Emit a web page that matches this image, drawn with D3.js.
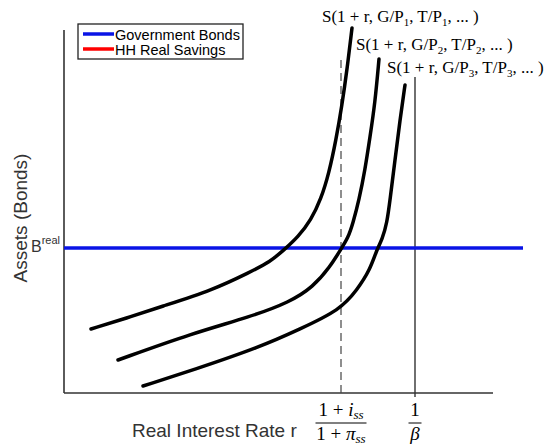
<!DOCTYPE html>
<html>
<head>
<meta charset="utf-8">
<script src="https://cdn.jsdelivr.net/npm/d3@7"></script>
<style>
  body { margin: 0; background: #fff; }
  svg { display: block; }
</style>
</head>
<body>
<div id="chart"></div>
<script>
// savings curves, [real rate, assets] in chart units
const savings1 = [[2.7, 6.4], [6.3, 7.5], [9.6, 8.6], [14.9, 10.3], [18.6, 12.1], [20.6, 13.1], [22.1, 14.4],
  [23.4, 15.6], [24.7, 17.3], [25.7, 19.4], [26.5, 22.0], [27.2, 25.3], [27.8, 28.8], [28.3, 32.3], [28.8, 36.5]];
const savings2 = [[5.4, 3.3], [12.9, 6.0], [18.6, 7.6], [22.6, 9.1], [24.9, 10.6], [26.6, 12.6], [27.7, 14.4],
  [28.4, 15.5], [28.9, 17.0], [29.5, 19.3], [30.1, 22.3], [30.6, 25.6], [31.1, 29.0], [31.5, 33.4]];
const savings3 = [[7.9, 0.7], [12.9, 2.3], [19.6, 4.6], [23.6, 6.4], [27.6, 8.3], [29.3, 10.3], [30.6, 12.3],
  [31.3, 14.4], [31.8, 15.3], [32.3, 17.0], [32.6, 19.3], [33.1, 23.3], [33.6, 27.3], [34.1, 30.8]];
const curveLabels = ["1", "2", "3"];
const bondLevel = 14.5;
const bondEnd = 45.9;
const ssRate = 27.7, ssTop = 33.3;
const betaRate = 35.1, betaTop = 31.6;

const width = 546, height = 445;
const svg = d3.select("#chart").append("svg")
  .attr("width", width).attr("height", height);

const x = d3.scaleLinear().domain([0, 42.9]).range([64, 493]);
const y = d3.scaleLinear().domain([0, 36.3]).range([393, 30]);

// axes (plain lines, no ticks)
svg.append("line").attr("x1", x(0)).attr("x2", x(0)).attr("y1", y(0)).attr("y2", y(36.3))
  .attr("stroke", "#333").attr("stroke-width", 1.6);
svg.append("line").attr("x1", x(0)).attr("x2", x(42.9)).attr("y1", y(0)).attr("y2", y(0))
  .attr("stroke", "#333").attr("stroke-width", 1.6);

// steady state dashed line and 1/beta line
svg.append("line").attr("x1", x(ssRate)).attr("x2", x(ssRate)).attr("y1", y(ssTop)).attr("y2", y(0) + 4)
  .attr("stroke", "#444").attr("stroke-width", 1.2).attr("stroke-dasharray", "8,5");
svg.append("line").attr("x1", x(betaRate)).attr("x2", x(betaRate)).attr("y1", y(betaTop)).attr("y2", y(0) + 4)
  .attr("stroke", "#333").attr("stroke-width", 1.4);

// government bonds
svg.append("line").attr("x1", x(0)).attr("x2", x(bondEnd)).attr("y1", y(bondLevel)).attr("y2", y(bondLevel))
  .attr("stroke", "#0a14e6").attr("stroke-width", 3.5);

const line = d3.line().x(d => x(d[0])).y(d => y(d[1])).curve(d3.curveBasis);
[savings1, savings2, savings3].forEach(s => {
  svg.append("path").attr("d", line(s)).attr("fill", "none")
    .attr("stroke", "#000").attr("stroke-width", 3.5).attr("stroke-linecap", "round");
});

// curve labels
const labelPos = [[322, 22], [356, 50], [387, 73]];
curveLabels.forEach((k, i) => {
  const t = svg.append("text").attr("x", labelPos[i][0]).attr("y", labelPos[i][1])
    .attr("font-family", "Liberation Serif, serif").attr("font-size", 17).attr("fill", "#000");
  t.append("tspan").text("S(1 + r, G/P");
  t.append("tspan").attr("font-size", 11).attr("dy", 4).text(k);
  t.append("tspan").attr("dy", -4).text(", T/P");
  t.append("tspan").attr("font-size", 11).attr("dy", 4).text(k);
  t.append("tspan").attr("dy", -4).text(", ... )");
});

// legend
const lg = svg.append("g");
lg.append("rect").attr("x", 78).attr("y", 24).attr("width", 165).attr("height", 35)
  .attr("fill", "#fff").attr("stroke", "#222").attr("stroke-width", 1.3);
[["Government Bonds", "#0a14e6", 34], ["HH Real Savings", "#ff0000", 49]].forEach(d => {
  lg.append("line").attr("x1", 83).attr("x2", 114).attr("y1", d[2]).attr("y2", d[2])
    .attr("stroke", d[1]).attr("stroke-width", 3.5);
  lg.append("text").attr("x", 115).attr("y", d[2] + 5.5).text(d[0])
    .attr("font-family", "Liberation Sans, Arial, sans-serif").attr("font-size", 14.5).attr("fill", "#000");
});

// axis titles
svg.append("text").attr("x", 132).attr("y", 437).text("Real Interest Rate r")
  .attr("font-family", "Liberation Sans, Arial, sans-serif").attr("font-size", 19).attr("fill", "#333");
svg.append("text").attr("transform", "translate(27,218) rotate(-90)").attr("text-anchor", "middle")
  .text("Assets (Bonds)")
  .attr("font-family", "Liberation Sans, Arial, sans-serif").attr("font-size", 19).attr("fill", "#333");

// B^real
const br = svg.append("text").attr("x", 31).attr("y", y(bondLevel) + 4)
  .attr("font-family", "Liberation Sans, Arial, sans-serif").attr("font-size", 16).attr("fill", "#333");
br.append("tspan").text("B");
br.append("tspan").attr("font-size", 11).attr("dy", -8).text("real");

// fraction tick labels
function frac(cx, num, den) {
  const g = svg.append("g").attr("font-family", "Liberation Serif, serif").attr("fill", "#000");
  const n = g.append("text").attr("x", cx).attr("y", 416).attr("text-anchor", "middle").attr("font-size", 19);
  num(n);
  g.append("line").attr("x1", cx - (den.w / 2)).attr("x2", cx + (den.w / 2)).attr("y1", 423).attr("y2", 423)
    .attr("stroke", "#000").attr("stroke-width", 1);
  const d = g.append("text").attr("x", cx).attr("y", 440).attr("text-anchor", "middle").attr("font-size", 19);
  den.f(d);
}
frac(x(ssRate), n => {
  n.append("tspan").text("1 + ");
  n.append("tspan").attr("font-style", "italic").text("i");
  n.append("tspan").attr("font-style", "italic").attr("font-size", 13).attr("dy", 3).text("ss");
}, { w: 51, f: d => {
  d.append("tspan").text("1 + ");
  d.append("tspan").attr("font-style", "italic").text("π");
  d.append("tspan").attr("font-style", "italic").attr("font-size", 13).attr("dy", 3).text("ss");
} });
frac(x(betaRate), n => { n.text("1"); }, { w: 13, f: d => {
  d.append("tspan").attr("font-style", "italic").text("β");
} });
</script>
</body>
</html>
